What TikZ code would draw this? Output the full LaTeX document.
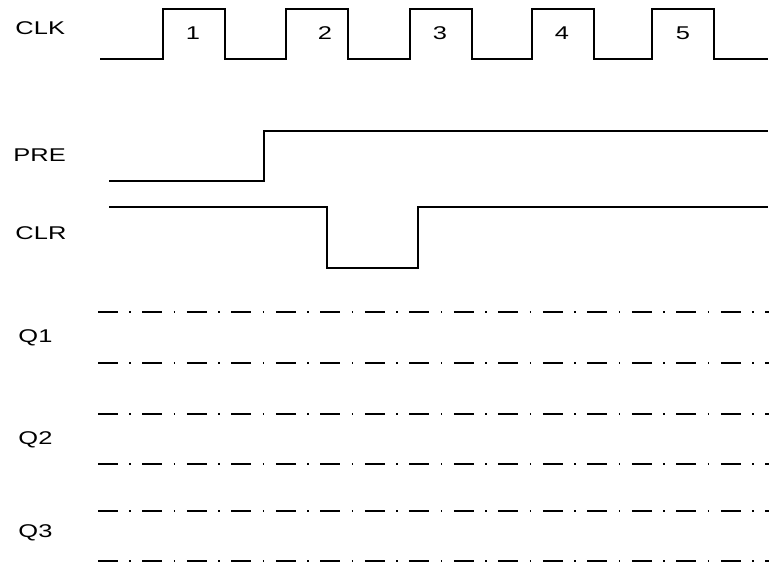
\documentclass[tikz,border=0pt]{standalone}
\usepackage{fontspec}
\setmainfont{Liberation Sans}
\usetikzlibrary{positioning}

\begin{document}
\begin{tikzpicture}[
    x=0.02cm, y=-0.02cm,
    sig/.style={line width=1pt, line join=miter},
    qline/.style={line width=1.2pt, dash pattern=on 0.4cm off 0.23cm on 0.03cm off 0.23cm},
    lbl/.style={font=\fontsize{10.5}{12}\selectfont, xscale=1.38, inner sep=0pt, anchor=west},
    num/.style={font=\fontsize{10.5}{12}\selectfont, xscale=1.38, inner sep=0pt}
]
\useasboundingbox (0,0) rectangle (769,568);

% signal names
\node[lbl] (clk) at (15,28) {CLK};
\node[lbl] (pre) at (13,155) {PRE};
\node[lbl] (clr) at (15,233) {CLR};
\node[lbl] (q1) at (18,338) {Q1};
\node[lbl] (q2) at (18,440) {Q2};
\node[lbl] (q3) at (18,533) {Q3};

% clock
\draw[sig] (100,59) \foreach \r in {163,286,410,532,652} { -- (\r,59) -- (\r,9) -- (\r+62,9) -- (\r+62,59) } -- (768,59);
\foreach \n/\x in {1/193,2/325,3/440,4/562,5/683}
    \node[num] (p\n) at (\x,33) {\n};

% preset and clear
\draw[sig] (109,181) -- (264,181) -- (264,131) -- (768,131);
\draw[sig] (109,207) -- (327,207) -- (327,268) -- (418,268) -- (418,207) -- (768,207);

% outputs, still unknown
\foreach \y in {312,363,414,464,511,561}
    \draw[qline] (98,\y) -- (769,\y);
\end{tikzpicture}
\end{document}
